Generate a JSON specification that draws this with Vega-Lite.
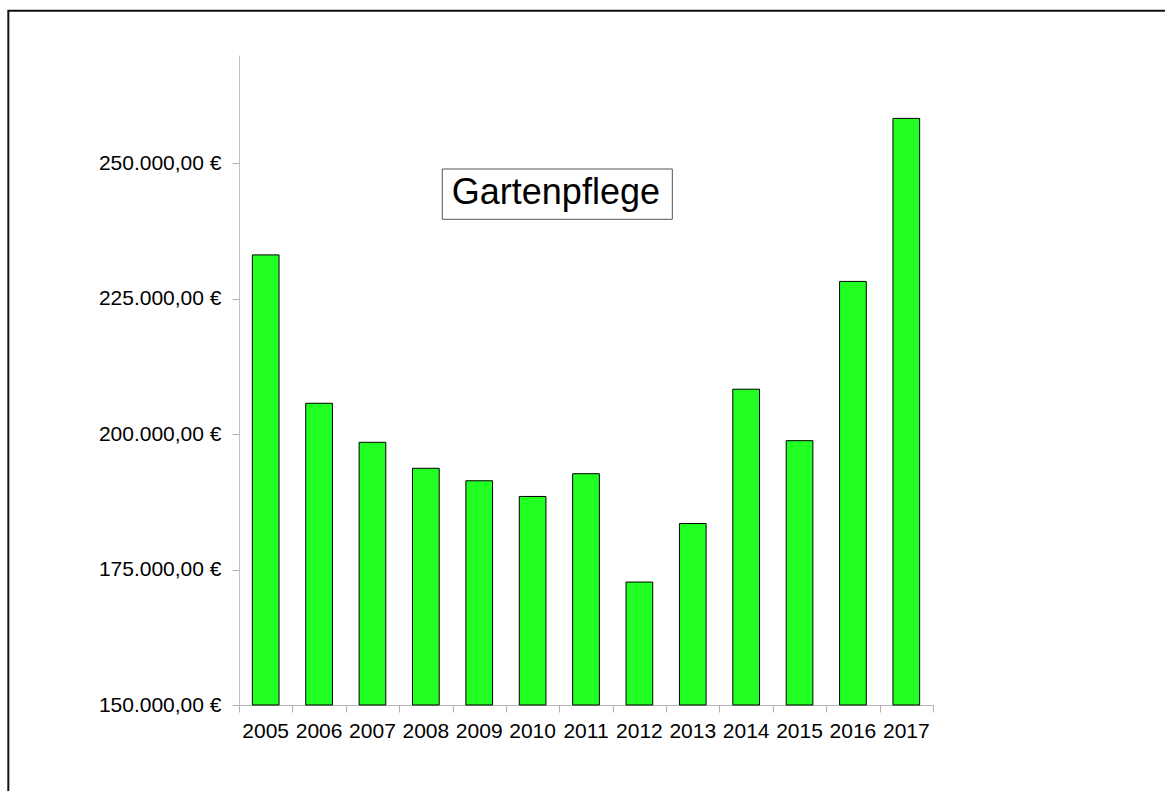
{
  "$schema": "https://vega.github.io/schema/vega-lite/v6.json",
  "width": 694,
  "height": 650,
  "autosize": {"type": "none"},
  "padding": {"left": 239, "top": 55, "right": 232, "bottom": 86},
  "background": "white",
  "config": {"view": {"stroke": null}, "font": "Liberation Sans"},
  "resolve": {"scale": {"x": "independent", "y": "independent"}},
  "layer": [
    {
      "data": {"values": [
        {"year": "2005", "value": 233100},
        {"year": "2006", "value": 205700},
        {"year": "2007", "value": 198500},
        {"year": "2008", "value": 193700},
        {"year": "2009", "value": 191400},
        {"year": "2010", "value": 188500},
        {"year": "2011", "value": 192700},
        {"year": "2012", "value": 172700},
        {"year": "2013", "value": 183500},
        {"year": "2014", "value": 208300},
        {"year": "2015", "value": 198800},
        {"year": "2016", "value": 228200},
        {"year": "2017", "value": 258300}
      ]},
      "mark": {"type": "bar", "fill": "#22ff22", "stroke": "#000000", "strokeWidth": 1},
      "encoding": {
        "x": {
          "field": "year", "type": "nominal",
          "scale": {"paddingInner": 0.5, "paddingOuter": 0.25},
          "axis": {"title": null, "orient": "bottom", "labelAngle": 0, "ticks": false, "domain": true, "domainColor": "#b8b8b8", "labelFontSize": 21, "labelColor": "#000000", "labelFont": "Liberation Sans", "labelPadding": 15, "grid": false}
        },
        "y": {
          "field": "value", "type": "quantitative",
          "scale": {"domain": [150000, 270000], "zero": false, "nice": false},
          "axis": {"title": null, "values": [150000, 175000, 200000, 225000, 250000], "labelExpr": "replace(replace(replace(format(datum.value, ',.2f'), ',', '_'), '.', ','), '_', '.') + ' €'", "ticks": true, "domain": true, "domainColor": "#c0c0c0", "tickColor": "#b0b0b0", "tickWidth": 1, "tickSize": 7, "labelFontSize": 21, "labelColor": "#000000", "labelFont": "Liberation Sans", "labelPadding": 11, "grid": false}
        },
        "y2": {"datum": 150000}
      }
    },
    {
      "data": {"values": [{}]},
      "mark": {"type": "rect", "fill": "white", "stroke": "#555555", "strokeWidth": 1},
      "encoding": {
        "x": {"datum": 3.808, "type": "quantitative", "scale": {"domain": [0, 13], "nice": false, "zero": false},
          "axis": {"orient": "bottom", "title": null, "values": [0, 1, 2, 3, 4, 5, 6, 7, 8, 9, 10, 11, 12, 13], "labels": false, "domain": false, "grid": false, "ticks": true, "tickColor": "#b0b0b0", "tickWidth": 1, "tickSize": 7}},
        "x2": {"datum": 8.117},
        "y": {"datum": 248954, "type": "quantitative", "scale": {"domain": [150000, 270000], "zero": false, "nice": false}, "axis": null},
        "y2": {"datum": 239668}
      }
    },
    {
      "data": {"values": [{}]},
      "mark": {"type": "text", "text": "Gartenpflege", "font": "Liberation Sans", "fontSize": 36, "color": "#000000", "align": "center", "baseline": "alphabetic"},
      "encoding": {
        "x": {"datum": 5.936, "type": "quantitative", "scale": {"domain": [0, 13], "nice": false, "zero": false}, "axis": null},
        "y": {"datum": 242437, "type": "quantitative", "scale": {"domain": [150000, 270000], "zero": false, "nice": false}, "axis": null}
      }
    },
    {
      "data": {"values": [{}]},
      "mark": {"type": "rect", "fill": null, "fillOpacity": 0, "stroke": "#111111", "strokeWidth": 2},
      "encoding": {
        "x": {"datum": -4.321, "type": "quantitative", "scale": {"domain": [0, 13], "nice": false, "zero": false}, "axis": null},
        "x2": {"datum": 20},
        "y": {"datum": 278160, "type": "quantitative", "scale": {"domain": [150000, 270000], "zero": false, "nice": false}, "axis": null},
        "y2": {"datum": 100000}
      }
    }
  ]
}
